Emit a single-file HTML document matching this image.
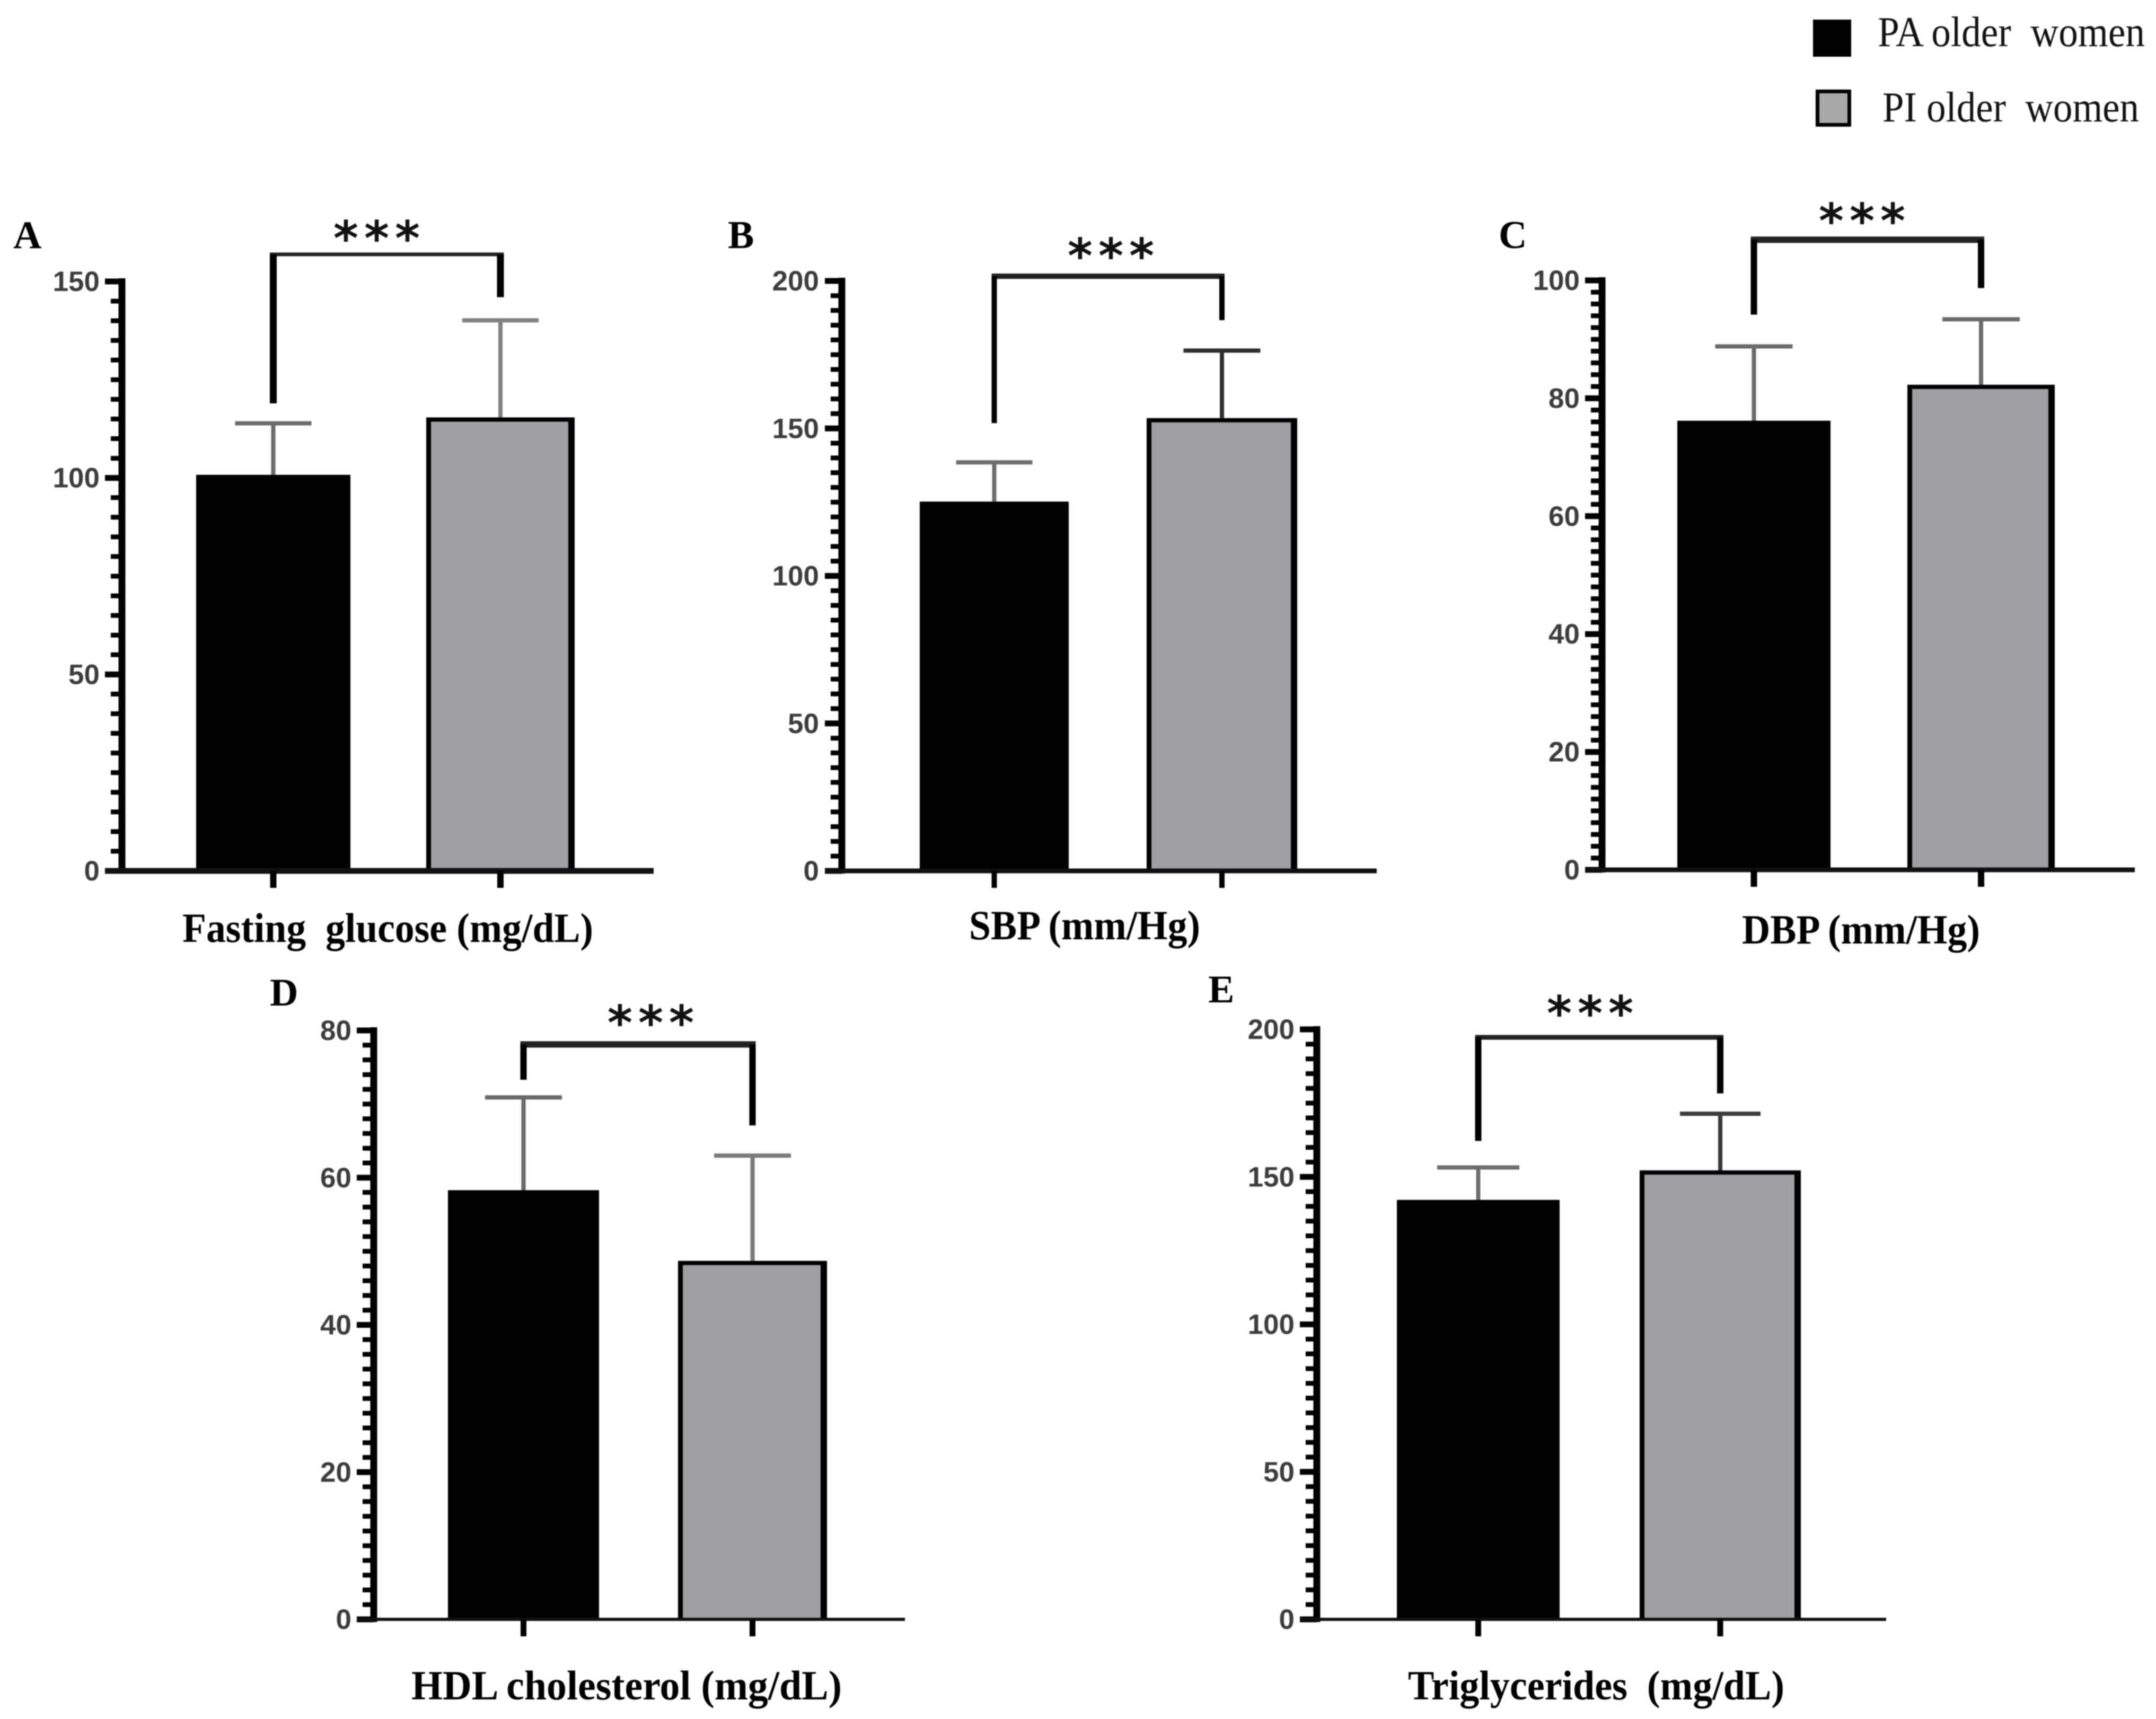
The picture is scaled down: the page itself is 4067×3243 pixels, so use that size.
<!DOCTYPE html>
<html lang="en">
<head>
<meta charset="utf-8">
<title>PA vs PI older women: bar charts</title>
<style>
html,body{margin:0;padding:0;background:#fff;}
body{width:4067px;height:3243px;overflow:hidden;}
svg{display:block;filter:blur(1px);}
</style>
</head>
<body>
<svg id="figure" xmlns="http://www.w3.org/2000/svg" width="4067" height="3243" viewBox="0 0 4067 3243">
  <rect x="0" y="0" width="4067" height="3243" fill="#ffffff"/>
  <g>
    <rect x="3420" y="37" width="72" height="70" fill="#000"/>
    <text x="3542" y="87" font-family="'Liberation Serif',serif" font-size="80" textLength="504" lengthAdjust="spacingAndGlyphs" fill="#111">PA older&#160; women</text>
    <rect x="3428.5" y="172.5" width="60" height="63" fill="#aaa8a8" stroke="#000" stroke-width="7"/>
    <text x="3551" y="229" font-family="'Liberation Serif',serif" font-size="80" textLength="484" lengthAdjust="spacingAndGlyphs" fill="#111">PI older&#160; women</text>
  </g>
</svg>
<script>
// ---- chart data ----
const categories = ['PA older women', 'PI older women'];
const panelNames = ['A', 'B', 'C', 'D', 'E'];
const axisTitles = ['Fasting\u00a0 glucose (mg/dL)', 'SBP (mm/Hg)', 'DBP (mm/Hg)', 'HDL cholesterol (mg/dL)', 'Triglycerides\u00a0 (mg/dL)'];

const glucoseMeans = [100.8, 115.4];
const glucoseUpper = [113.9, 140.1];
const glucoseTicks = [0, 50, 100, 150];

const sbpMeans = [125.2, 153.5];
const sbpUpper = [138.5, 176.4];
const sbpTicks = [0, 50, 100, 150, 200];

const dbpMeans = [76.2, 82.3];
const dbpUpper = [88.8, 93.4];
const dbpTicks = [0, 20, 40, 60, 80, 100];

const hdlMeans = [58.3, 48.7];
const hdlUpper = [70.9, 63.0];
const hdlTicks = [0, 20, 40, 60, 80];

const tgMeans = [142.2, 152.2];
const tgUpper = [153.2, 171.4];
const tgTicks = [0, 50, 100, 150, 200];

// significance bracket levels, in axis units: [top, left end, right end]
const glucoseBracket = [156.9, 119.0, 146.0];
const sbpBracket = [201.6, 151.8, 186.7];
const dbpBracket = [106.9, 94.2, 98.7];
const hdlBracket = [78.1, 73.3, 67.1];
const tgBracket = [197.3, 162.2, 178.3];

const significance = '***';

// ---- layout (pixels, independent of the data) ----
const layouts = [
  {key:'glucose', means:glucoseMeans, upper:glucoseUpper, ticks:glucoseTicks, bracket:glucoseBracket,
   spine:230, y0:1643, yTop:531, xEnd:1233, bands:[[370,661],[804,1084]], caps:[144,144], lab:[25,468], title:[344,775,1777], star:[711,435], tickEnd:188, tickW:12, baseW:11, topW:7, sideW:13, err:['#6a6a6a','#808080']},
  {key:'sbp', means:sbpMeans, upper:sbpUpper, ticks:sbpTicks, bracket:sbpBracket,
   spine:1588, y0:1643, yTop:530, xEnd:2597, bands:[[1735,2016],[2163,2447]], caps:[144,145], lab:[1373,468], title:[1828,436,1772], star:[2096,468], tickEnd:1545, tickW:10, baseW:9, topW:10, sideW:10, err:['#6e6e6e','#2e2e2e']},
  {key:'dbp', means:dbpMeans, upper:dbpUpper, ticks:dbpTicks, bracket:dbpBracket,
   spine:3022, y0:1641, yTop:529, xEnd:4027, bands:[[3164,3453],[3598,3876]], caps:[146,146], lab:[2827,468], title:[3286,449,1780], star:[3513,402], tickEnd:2980, tickW:12, baseW:9, topW:12, sideW:12, err:['#6a6a6a','#6a6a6a']},
  {key:'hdl', means:hdlMeans, upper:hdlUpper, ticks:hdlTicks, bracket:hdlBracket,
   spine:705, y0:3055, yTop:1944, xEnd:1707, bands:[[845,1130],[1279,1560]], caps:[145,145], lab:[509,1897], title:[776,812,3206], star:[1228,1915], tickEnd:663, tickW:11, baseW:6, topW:12, sideW:12, err:['#6a6a6a','#7a7a7a']},
  {key:'tg', means:tgMeans, upper:tgUpper, ticks:tgTicks, bracket:tgBracket,
   spine:2484, y0:3055, yTop:1942, xEnd:3558, bands:[[2635,2942],[3093,3397]], caps:[155,152], lab:[2279,1891], title:[2656,710,3206], star:[3000,1897], tickEnd:2442, tickW:11, baseW:6, topW:9, sideW:12, err:['#6e6e6e','#3a3a3a']}
];

const NS = 'http://www.w3.org/2000/svg';
const root = document.getElementById('figure');
const SERIF = "'Liberation Serif',serif";
const SANS = "'Liberation Sans',sans-serif";

function make(tag, parent, props) {
  const el = document.createElementNS(NS, tag);
  for (const k in props) el.setAttribute(k, props[k]);
  parent.appendChild(el);
  return el;
}

layouts.forEach(function (p, idx) {
  const maxV = p.ticks[p.ticks.length - 1];
  const yScale = function (v) { return p.y0 - (v / maxV) * (p.y0 - p.yTop); };
  const bandCenter = function (i) { return (p.bands[i][0] + p.bands[i][1]) / 2; };

  const g = make('g', root, {});
  
  

  // panel letter
  const letter = make('text', g, {x:p.lab[0], y:p.lab[1], 'font-family':SERIF, 'font-weight':'bold', 'font-size':74, fill:'#000'});
  letter.textContent = panelNames[idx];
  
  

  // error bars (behind bars)
  categories.forEach(function (c, i) {
    const cx = bandCenter(i);
    const stem = make('line', g, {x1:cx, x2:cx, y1:yScale(p.means[i]), y2:yScale(p.upper[i]), stroke:p.err[i], 'stroke-width':8});
    
    
    const cap = make('line', g, {x1:cx - p.caps[i] / 2, x2:cx + p.caps[i] / 2, y1:yScale(p.upper[i]), y2:yScale(p.upper[i]), stroke:p.err[i], 'stroke-width':8});
    
    
  });

  // bars
  categories.forEach(function (c, i) {
    const x0 = p.bands[i][0], x1 = p.bands[i][1], top = yScale(p.means[i]);
    const bar = make('rect', g, {x:x0, y:top, width:x1 - x0, height:p.y0 - top, fill:'#000'});
    
    
    if (i === 1) {
      const inner = make('rect', g, {x:x0 + 9, y:top + 8, width:x1 - x0 - 21, height:p.y0 - top - 8, fill:'#a09fa3'});
      
      
    }
  });

  // y axis: minor ticks, major ticks, labels
  const sub = 10;
  for (let m = 0; m < p.ticks.length - 1; m++) {
    const step = (p.ticks[m + 1] - p.ticks[m]) / sub;
    for (let s = 1; s < sub; s++) {
      const ty = yScale(p.ticks[m] + s * step);
      const minor = make('line', g, {x1:p.spine - 21, x2:p.spine, y1:ty, y2:ty, stroke:'#000', 'stroke-width':9});
      
      
    }
  }
  p.ticks.forEach(function (t) {
    const ty = yScale(t);
    const major = make('line', g, {x1:p.spine - 32, x2:p.spine, y1:ty, y2:ty, stroke:'#000', 'stroke-width':11});
    
    
    const lab = make('text', g, {x:p.tickEnd, y:ty + 18, 'text-anchor':'end', 'font-family':SANS, 'font-weight':'bold', 'font-size':53, fill:'#3c3c3c'});
    lab.textContent = t;
    
    
  });

  const spine = make('line', g, {x1:p.spine, x2:p.spine, y1:p.yTop - 6, y2:p.y0 + 5, stroke:'#000', 'stroke-width':13});
  
  

  // x axis
  const base = make('line', g, {x1:p.spine - 32, x2:p.xEnd, y1:p.y0, y2:p.y0, stroke:'#111', 'stroke-width':p.baseW});
  
  

  categories.forEach(function (c, i) {
    const tick = make('line', g, {x1:bandCenter(i), x2:bandCenter(i), y1:p.y0, y2:p.y0 + 32, stroke:'#000', 'stroke-width':p.tickW});
    
    
  });

  // x-axis title
  const title = make('text', g, {x:p.title[0], y:p.title[2], 'font-family':SERIF, 'font-weight':'bold', 'font-size':78, textLength:p.title[1], lengthAdjust:'spacingAndGlyphs', fill:'#000'});
  title.textContent = axisTitles[idx];
  
  

  // significance bracket
  const bx0 = bandCenter(0), bx1 = bandCenter(1), bt = yScale(p.bracket[0]);
  const bTop = make('line', g, {x1:bx0 - p.sideW / 2, x2:bx1 + p.sideW / 2, y1:bt, y2:bt, stroke:'#222', 'stroke-width':p.topW});
  
  
  const bL = make('line', g, {x1:bx0, x2:bx0, y1:bt, y2:yScale(p.bracket[1]), stroke:'#000', 'stroke-width':p.sideW});
  
  
  const bR = make('line', g, {x1:bx1, x2:bx1, y1:bt, y2:yScale(p.bracket[2]), stroke:'#000', 'stroke-width':p.sideW});
  
  

  // stars
  const star = make('text', g, {x:p.star[0] + 5, y:p.star[1] + 46, 'text-anchor':'middle', 'font-family':"'DejaVu Sans',sans-serif", 'font-weight':'bold', 'font-size':90, 'letter-spacing':11, fill:'#111'});
  star.textContent = significance;
  
  
});
</script>
</body>
</html>
